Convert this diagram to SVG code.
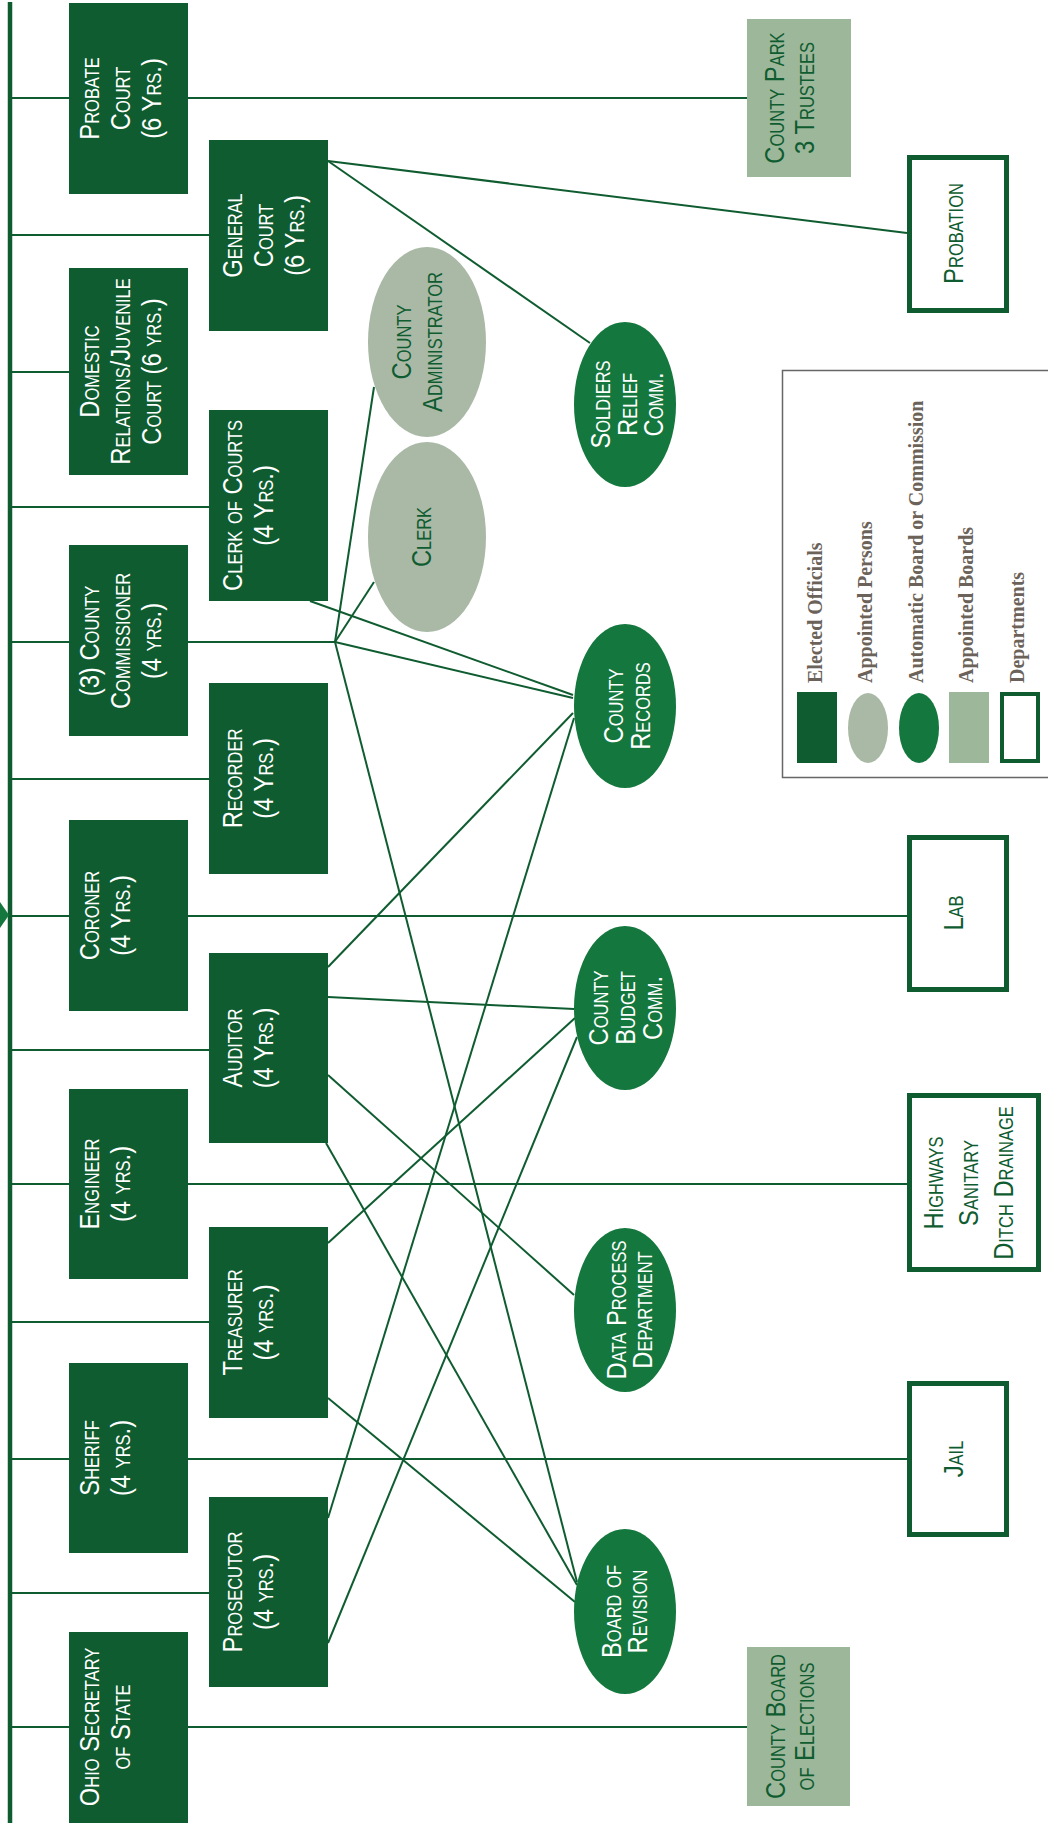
<svg xmlns="http://www.w3.org/2000/svg" width="1048" height="1823" viewBox="0 0 1048 1823">
<style>
.bg{fill:#ffffff}
.el{fill:#0f5c30}
.ap{fill:#a9b9a6}
.au{fill:#14773d}
.ab{fill:#9db79a}
.dp{fill:#ffffff;stroke:#0f5c30;stroke-width:5}
.cn{stroke:#0f5c30;stroke-width:2;fill:none}
.t{font-family:'Liberation Sans',Arial,sans-serif;font-size:28px;font-variant:small-caps;text-anchor:middle}
.w{fill:#ffffff}
.g{fill:#0f5c30}
.lg{font-family:'Liberation Serif','Times New Roman',serif;font-weight:bold;font-size:20px;fill:#6b6259}
</style>
<rect class="bg" x="0" y="0" width="1048" height="1823"/>

<g id="connectors">
<line class="cn" x1="10" y1="2" x2="10" y2="1823" style="stroke-width:4.5"/>
<polygon points="0,902 9,915 0,928" fill="#14773d"/>
<line class="cn" x1="10" y1="98" x2="747" y2="98"/>
<line class="cn" x1="10" y1="235" x2="209" y2="235"/>
<line class="cn" x1="10" y1="372" x2="69" y2="372"/>
<line class="cn" x1="10" y1="507" x2="209" y2="507"/>
<line class="cn" x1="10" y1="642" x2="335" y2="642"/>
<line class="cn" x1="10" y1="779" x2="209" y2="779"/>
<line class="cn" x1="10" y1="916" x2="907" y2="916"/>
<line class="cn" x1="10" y1="1050" x2="209" y2="1050"/>
<line class="cn" x1="10" y1="1184" x2="907" y2="1184"/>
<line class="cn" x1="10" y1="1322" x2="209" y2="1322"/>
<line class="cn" x1="10" y1="1459" x2="907" y2="1459"/>
<line class="cn" x1="10" y1="1593" x2="209" y2="1593"/>
<line class="cn" x1="10" y1="1727" x2="747" y2="1727"/>
<line class="cn" x1="328" y1="161" x2="907" y2="233"/>
<line class="cn" x1="328" y1="161" x2="590" y2="343"/>
<line class="cn" x1="335" y1="642" x2="374" y2="387"/>
<line class="cn" x1="335" y1="642" x2="374" y2="582"/>
<line class="cn" x1="335" y1="642" x2="573" y2="698"/>
<line class="cn" x1="335" y1="642" x2="577" y2="1582"/>
<line class="cn" x1="310" y1="601" x2="573" y2="695"/>
<line class="cn" x1="328" y1="967" x2="573" y2="713"/>
<line class="cn" x1="328" y1="997" x2="574" y2="1009"/>
<line class="cn" x1="328" y1="1075" x2="574" y2="1295"/>
<line class="cn" x1="326" y1="1143" x2="577" y2="1585"/>
<line class="cn" x1="328" y1="1243" x2="575" y2="1018"/>
<line class="cn" x1="328" y1="1398" x2="575" y2="1602"/>
<line class="cn" x1="328" y1="1518" x2="574" y2="718"/>
<line class="cn" x1="328" y1="1643" x2="577" y2="1037"/>
</g>

<g id="probate"><rect class="el" x="69" y="3" width="119" height="191"/>
<text class="t w" transform="translate(0,98.5) rotate(-90) scale(0.85,1)"><tspan x="0" y="99">Probate</tspan><tspan x="0" y="130">Court</tspan><tspan x="0" y="161">(6 Yrs.)</tspan></text></g>
<g id="domestic"><rect class="el" x="69" y="268" width="119" height="207"/>
<text class="t w" transform="translate(0,371.5) rotate(-90) scale(0.85,1)"><tspan x="0" y="99">Domestic</tspan><tspan x="0" y="130">Relations/Juvenile</tspan><tspan x="0" y="161">Court (6 yrs.)</tspan></text></g>
<g id="commissioner"><rect class="el" x="69" y="545" width="119" height="191"/>
<text class="t w" transform="translate(0,641) rotate(-90) scale(0.85,1)"><tspan x="0" y="99">(3) County</tspan><tspan x="0" y="130">Commissioner</tspan><tspan x="0" y="161">(4 yrs.)</tspan></text></g>
<g id="coroner"><rect class="el" x="69" y="820" width="119" height="191"/>
<text class="t w" transform="translate(0,915.5) rotate(-90) scale(0.85,1)"><tspan x="0" y="99">Coroner</tspan><tspan x="0" y="130">(4 Yrs.)</tspan></text></g>
<g id="engineer"><rect class="el" x="69" y="1089" width="119" height="190"/>
<text class="t w" transform="translate(0,1184) rotate(-90) scale(0.85,1)"><tspan x="0" y="99">Engineer</tspan><tspan x="0" y="130">(4 yrs.)</tspan></text></g>
<g id="sheriff"><rect class="el" x="69" y="1363" width="119" height="190"/>
<text class="t w" transform="translate(0,1458) rotate(-90) scale(0.85,1)"><tspan x="0" y="99">Sheriff</tspan><tspan x="0" y="130">(4 yrs.)</tspan></text></g>
<g id="ohio"><rect class="el" x="69" y="1632" width="119" height="191"/>
<text class="t w" transform="translate(0,1727) rotate(-90) scale(0.85,1)"><tspan x="0" y="99">Ohio Secretary</tspan><tspan x="0" y="130">of State</tspan></text></g>

<g id="general"><rect class="el" x="209" y="140" width="119" height="191"/>
<text class="t w" transform="translate(0,235.5) rotate(-90) scale(0.85,1)"><tspan x="0" y="242">General</tspan><tspan x="0" y="273">Court</tspan><tspan x="0" y="304">(6 Yrs.)</tspan></text></g>
<g id="clerkcourts"><rect class="el" x="209" y="410" width="119" height="191"/>
<text class="t w" transform="translate(0,505.5) rotate(-90) scale(0.85,1)"><tspan x="0" y="242">Clerk of Courts</tspan><tspan x="0" y="273">(4 Yrs.)</tspan></text></g>
<g id="recorder"><rect class="el" x="209" y="683" width="119" height="191"/>
<text class="t w" transform="translate(0,778.5) rotate(-90) scale(0.85,1)"><tspan x="0" y="242">Recorder</tspan><tspan x="0" y="273">(4 Yrs.)</tspan></text></g>
<g id="auditor"><rect class="el" x="209" y="953" width="119" height="190"/>
<text class="t w" transform="translate(0,1048) rotate(-90) scale(0.85,1)"><tspan x="0" y="242">Auditor</tspan><tspan x="0" y="273">(4 Yrs.)</tspan></text></g>
<g id="treasurer"><rect class="el" x="209" y="1227" width="119" height="191"/>
<text class="t w" transform="translate(0,1322.5) rotate(-90) scale(0.85,1)"><tspan x="0" y="242">Treasurer</tspan><tspan x="0" y="273">(4 yrs.)</tspan></text></g>
<g id="prosecutor"><rect class="el" x="209" y="1497" width="119" height="190"/>
<text class="t w" transform="translate(0,1592) rotate(-90) scale(0.85,1)"><tspan x="0" y="242">Prosecutor</tspan><tspan x="0" y="273">(4 yrs.)</tspan></text></g>

<g id="countyadmin"><ellipse class="ap" cx="427" cy="342" rx="59" ry="95"/>
<text class="t g" transform="translate(0,342) rotate(-90) scale(0.85,1)"><tspan x="0" y="411">County</tspan><tspan x="0" y="442">Administrator</tspan></text></g>
<g id="clerk"><ellipse class="ap" cx="427" cy="537" rx="59" ry="95"/>
<text class="t g" transform="translate(0,537) rotate(-90) scale(0.85,1)"><tspan x="0" y="431">Clerk</tspan></text></g>

<g id="soldiers"><ellipse class="au" cx="625" cy="404.5" rx="51" ry="82.5"/>
<text class="t w" transform="translate(0,404.5) rotate(-90) scale(0.85,1)"><tspan x="0" y="610">Soldiers</tspan><tspan x="0" y="637">Relief</tspan><tspan x="0" y="663">Comm.</tspan></text></g>
<g id="records"><ellipse class="au" cx="625" cy="706" rx="51" ry="82"/>
<text class="t w" transform="translate(0,706) rotate(-90) scale(0.85,1)"><tspan x="0" y="623">County</tspan><tspan x="0" y="650">Records</tspan></text></g>
<g id="budget"><ellipse class="au" cx="625" cy="1008" rx="51" ry="82"/>
<text class="t w" transform="translate(0,1008) rotate(-90) scale(0.85,1)"><tspan x="0" y="608">County</tspan><tspan x="0" y="635">Budget</tspan><tspan x="0" y="662">Comm.</tspan></text></g>
<g id="dataproc"><ellipse class="au" cx="625" cy="1310" rx="51" ry="82"/>
<text class="t w" transform="translate(0,1310) rotate(-90) scale(0.85,1)"><tspan x="0" y="626">Data Process</tspan><tspan x="0" y="652">Department</tspan></text></g>
<g id="revision"><ellipse class="au" cx="625" cy="1611.5" rx="51" ry="82.5"/>
<text class="t w" transform="translate(0,1611.5) rotate(-90) scale(0.85,1)"><tspan x="0" y="621">Board of</tspan><tspan x="0" y="647">Revision</tspan></text></g>

<g id="countypark"><rect class="ab" x="747" y="19" width="104" height="158"/>
<text class="t g" transform="translate(0,98) rotate(-90) scale(0.85,1)"><tspan x="0" y="784">County Park</tspan><tspan x="0" y="814">3 Trustees</tspan></text></g>
<g id="elections"><rect class="ab" x="747" y="1647" width="103" height="159"/>
<text class="t g" transform="translate(0,1726.5) rotate(-90) scale(0.85,1)"><tspan x="0" y="785">County Board</tspan><tspan x="0" y="814">of Elections</tspan></text></g>

<g id="probation"><rect class="dp" x="909.5" y="157.5" width="97" height="153"/>
<text class="t g" transform="translate(0,233.5) rotate(-90) scale(0.85,1)"><tspan x="0" y="963">Probation</tspan></text></g>
<g id="lab"><rect class="dp" x="909.5" y="837.5" width="97" height="152"/>
<text class="t g" transform="translate(0,913) rotate(-90) scale(0.85,1)"><tspan x="0" y="963">Lab</tspan></text></g>
<g id="highways"><rect class="dp" x="909.5" y="1095.5" width="129" height="174"/>
<text class="t g" transform="translate(0,1183) rotate(-90) scale(0.85,1)"><tspan x="0" y="943">Highways</tspan><tspan x="0" y="978">Sanitary</tspan><tspan x="0" y="1013">Ditch Drainage</tspan></text></g>
<g id="jail"><rect class="dp" x="909.5" y="1383.5" width="97" height="151"/>
<text class="t g" transform="translate(0,1459) rotate(-90) scale(0.85,1)"><tspan x="0" y="963">Jail</tspan></text></g>

<g id="legend">
<rect x="782.5" y="370.5" width="270" height="407" fill="none" stroke="#666666" stroke-width="1.5"/>
<rect class="el" x="797" y="692" width="40" height="71"/>
<ellipse class="ap" cx="868" cy="728" rx="20" ry="35"/>
<ellipse class="au" cx="919" cy="728" rx="20" ry="35"/>
<rect class="ab" x="949" y="692" width="40" height="71"/>
<rect x="1002" y="694" width="36" height="67" fill="#ffffff" stroke="#0f5c30" stroke-width="4"/>
<text class="lg" transform="translate(822,683) rotate(-90)">Elected Officials</text>
<text class="lg" transform="translate(872,683) rotate(-90)">Appointed Persons</text>
<text class="lg" transform="translate(923,683) rotate(-90)">Automatic Board or Commission</text>
<text class="lg" transform="translate(973,683) rotate(-90)">Appointed Boards</text>
<text class="lg" transform="translate(1024,683) rotate(-90)">Departments</text>
</g>
</svg>
